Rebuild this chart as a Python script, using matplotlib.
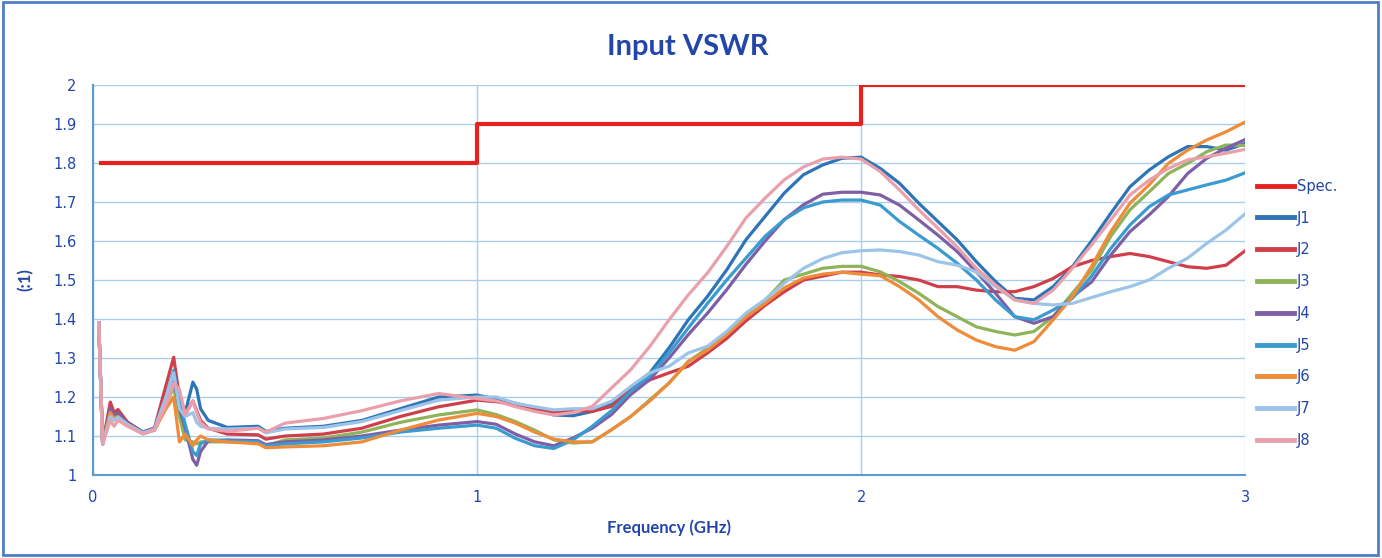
import matplotlib
matplotlib.use("Agg")
import matplotlib.pyplot as plt
from matplotlib.patches import Rectangle

# frequency points (GHz)
freq = [0.015, 0.025, 0.045, 0.055, 0.065, 0.09, 0.13, 0.16, 0.19, 0.21,
        0.225, 0.24, 0.26, 0.27, 0.28, 0.30, 0.35, 0.43, 0.45,
        0.5, 0.6, 0.7, 0.8, 0.9, 1.0,
        1.05, 1.1, 1.15, 1.2, 1.25, 1.3, 1.35, 1.4, 1.45, 1.5,
        1.55, 1.6, 1.65, 1.7, 1.75, 1.8, 1.85, 1.9, 1.95, 2.0,
        2.05, 2.1, 2.15, 2.2, 2.25, 2.3, 2.35, 2.4, 2.45, 2.5,
        2.55, 2.6, 2.65, 2.7, 2.75, 2.8, 2.85, 2.9, 2.95, 3.0]

j1 = [1.39, 1.08, 1.17, 1.155, 1.16, 1.135, 1.11, 1.12, 1.2, 1.25,
      1.18, 1.16, 1.238, 1.22, 1.17, 1.14, 1.122, 1.125, 1.112,
      1.12, 1.125, 1.14, 1.17, 1.2, 1.205,
      1.195, 1.184, 1.17, 1.154, 1.152, 1.163, 1.185, 1.223, 1.262, 1.326,
      1.398, 1.458, 1.526, 1.603, 1.663, 1.723, 1.77, 1.795, 1.812, 1.815,
      1.786, 1.748, 1.697, 1.65, 1.603, 1.547, 1.496, 1.453, 1.449, 1.483,
      1.534, 1.6, 1.671, 1.739, 1.782, 1.816, 1.842, 1.842, 1.833, 1.85]

j2 = [1.39, 1.08, 1.187, 1.16, 1.168, 1.135, 1.11, 1.12, 1.23, 1.302,
      1.2, 1.155, 1.19, 1.165, 1.14, 1.12, 1.105, 1.103, 1.092,
      1.10, 1.105, 1.12, 1.15, 1.175, 1.192,
      1.188, 1.18, 1.17, 1.162, 1.165, 1.163, 1.176, 1.219, 1.244, 1.262,
      1.279, 1.313, 1.35, 1.395, 1.435, 1.47, 1.5, 1.51, 1.52, 1.52,
      1.513, 1.509, 1.5, 1.483, 1.483, 1.474, 1.47, 1.47, 1.483, 1.504,
      1.534, 1.55, 1.56, 1.568, 1.56, 1.547, 1.534, 1.53, 1.538, 1.575]

j3 = [1.39, 1.08, 1.165, 1.15, 1.155, 1.13, 1.108, 1.118, 1.18, 1.225,
      1.15, 1.09, 1.085, 1.08, 1.085, 1.085, 1.085, 1.085, 1.075,
      1.09, 1.095, 1.11, 1.135, 1.154, 1.167,
      1.155, 1.137, 1.115, 1.09, 1.082, 1.085, 1.116, 1.15, 1.193, 1.236,
      1.291, 1.325, 1.364, 1.41, 1.448, 1.50, 1.515, 1.53, 1.535, 1.535,
      1.521, 1.496, 1.466, 1.432, 1.406, 1.38, 1.368, 1.359, 1.368, 1.406,
      1.466, 1.525, 1.612, 1.68, 1.726, 1.773, 1.799, 1.829, 1.846, 1.845]

j4 = [1.39, 1.08, 1.172, 1.155, 1.16, 1.132, 1.11, 1.12, 1.2, 1.25,
      1.17, 1.12, 1.04, 1.025, 1.06, 1.088, 1.09, 1.088, 1.078,
      1.085, 1.09, 1.10, 1.115, 1.128, 1.137,
      1.13, 1.105, 1.085, 1.075, 1.095, 1.12, 1.155, 1.206, 1.245, 1.30,
      1.36, 1.415, 1.475, 1.54, 1.60, 1.655, 1.693, 1.72, 1.725, 1.725,
      1.718, 1.692, 1.654, 1.615, 1.573, 1.521, 1.466, 1.406, 1.389, 1.406,
      1.457, 1.495, 1.564, 1.624, 1.667, 1.714, 1.773, 1.812, 1.838, 1.86]

j5 = [1.39, 1.08, 1.155, 1.145, 1.15, 1.13, 1.108, 1.115, 1.2, 1.268,
      1.19, 1.13, 1.06, 1.05, 1.08, 1.09, 1.088, 1.085, 1.075,
      1.08, 1.085, 1.095, 1.11, 1.12, 1.128,
      1.12, 1.094, 1.075, 1.068, 1.09, 1.125, 1.165, 1.215, 1.255, 1.313,
      1.377, 1.44, 1.50, 1.556, 1.612, 1.655, 1.685, 1.70, 1.705, 1.705,
      1.692, 1.65, 1.615, 1.581, 1.543, 1.5, 1.449, 1.406, 1.398, 1.423,
      1.453, 1.51, 1.581, 1.641, 1.688, 1.718, 1.731, 1.744, 1.756, 1.775]

j6 = [1.39, 1.08, 1.16, 1.145, 1.15, 1.128, 1.108, 1.115, 1.17, 1.2,
      1.085, 1.105, 1.075, 1.09, 1.1, 1.09, 1.085, 1.08, 1.07,
      1.072, 1.075, 1.085, 1.115, 1.141, 1.158,
      1.15, 1.133, 1.11, 1.092, 1.085, 1.085, 1.116, 1.15, 1.19, 1.236,
      1.291, 1.32, 1.36, 1.405, 1.44, 1.48, 1.505, 1.515, 1.52, 1.515,
      1.511, 1.483, 1.449, 1.406, 1.372, 1.346, 1.329, 1.32, 1.342, 1.398,
      1.457, 1.535, 1.624, 1.697, 1.744, 1.799, 1.833, 1.859, 1.88, 1.905]

j7 = [1.39, 1.08, 1.15, 1.14, 1.148, 1.13, 1.108, 1.118, 1.2, 1.262,
      1.17, 1.15, 1.16, 1.135, 1.125, 1.12, 1.118, 1.12, 1.108,
      1.118, 1.122, 1.137, 1.165, 1.192, 1.2,
      1.2, 1.184, 1.175, 1.167, 1.17, 1.17, 1.189, 1.227, 1.262, 1.279,
      1.313, 1.33, 1.368, 1.415, 1.45, 1.492, 1.53, 1.555, 1.57, 1.575,
      1.577, 1.573, 1.564, 1.547, 1.538, 1.521, 1.483, 1.449, 1.44, 1.436,
      1.44, 1.455, 1.47, 1.483, 1.5, 1.53, 1.556, 1.594, 1.628, 1.67]

j8 = [1.39, 1.08, 1.14, 1.125, 1.14, 1.125, 1.105, 1.115, 1.18, 1.235,
      1.22, 1.155, 1.19, 1.16, 1.135, 1.118, 1.112, 1.12, 1.11,
      1.133, 1.145, 1.165, 1.19, 1.209, 1.196,
      1.19, 1.175, 1.163, 1.154, 1.16, 1.176, 1.223, 1.27, 1.33, 1.398,
      1.462, 1.518, 1.586, 1.659, 1.71, 1.757, 1.79, 1.81, 1.815, 1.81,
      1.778, 1.731, 1.68, 1.633, 1.585, 1.53, 1.487, 1.449, 1.44, 1.474,
      1.53, 1.59, 1.654, 1.718, 1.756, 1.786, 1.808, 1.816, 1.825, 1.835]

# spec limit (step)
spec_freq = [0.02, 1.0, 2.0, 3.0]
spec_vals = [1.8, 1.9, 2.0, 2.0]

names = ["J1", "J2", "J3", "J4", "J5", "J6", "J7", "J8"]
series = [j1, j2, j3, j4, j5, j6, j7, j8]
colors = ["#2E75B6", "#CF3F4A", "#8FB35A", "#7E5FA6", "#3A9BD0",
          "#EE8C3A", "#9CC4E8", "#EAA0AC"]

blue_txt = "#2346A8"

fig = plt.figure(figsize=(13.82, 5.58), dpi=100)
ax = fig.add_axes([0.0673, 0.1487, 0.8337, 0.699])

ax.plot(spec_freq, spec_vals, drawstyle="steps-post", color="#E8201E",
        lw=3.0, label="Spec.", zorder=10)
for name, vals, c in zip(names, series, colors):
    ax.plot(freq, vals, color=c, lw=2.3, label=name)

ax.set_xlim(0, 3)
ax.set_ylim(1, 2)
yt = [1 + 0.1 * i for i in range(11)]
ax.set_yticks(yt)
ax.set_yticklabels(["1", "1.1", "1.2", "1.3", "1.4", "1.5", "1.6", "1.7",
                    "1.8", "1.9", "2"])
ax.set_xticks([0, 1, 2, 3])
ax.set_xticklabels(["0", "1", "2", "3"])
ax.grid(True, color="#A9CDEB", lw=1.0)
ax.set_axisbelow(True)
ax.tick_params(length=0, labelsize=10.5, labelcolor=blue_txt)
ax.tick_params(axis="x", pad=11)
ax.tick_params(axis="y", pad=12)
for s in ["top", "right"]:
    ax.spines[s].set_visible(False)
for s in ["left", "bottom"]:
    ax.spines[s].set_color("#5B9BD5")
    ax.spines[s].set_linewidth(1.5)

ax.set_xlabel("Frequency (GHz)", fontsize=12, fontweight="bold",
              color=blue_txt, labelpad=10, family="Lato")
ax.set_ylabel("(:1)", fontsize=12, fontweight="bold", color=blue_txt,
              labelpad=14, family="Lato")
fig.text(0.498, 0.915, "Input VSWR", ha="center", va="center",
         fontsize=21, fontweight="bold", color="#2346A8", family="Lato")

leg = fig.legend(loc="upper left", bbox_to_anchor=(0.905, 0.69),
                 frameon=False, fontsize=10.5, handlelength=2.6,
                 handletextpad=0.15, labelspacing=1.15, borderaxespad=0)
for t in leg.get_texts():
    t.set_color(blue_txt)
for h in leg.get_lines():
    h.set_linewidth(3.5)

fig.patches.append(Rectangle((0.002, 0.006), 0.995, 0.99,
                             transform=fig.transFigure, fill=False,
                             edgecolor="#4F7FC8", lw=2))

fig.savefig("out.png", dpi=100)
